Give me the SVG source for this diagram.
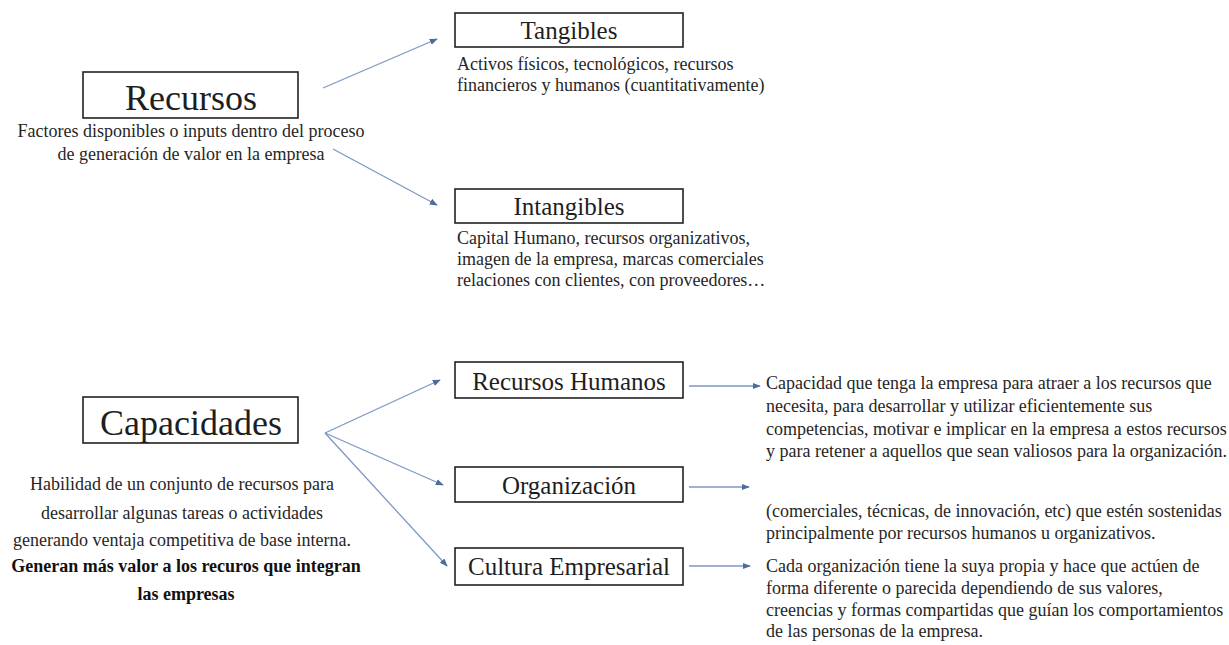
<svg xmlns="http://www.w3.org/2000/svg" width="1229" height="645" viewBox="0 0 1229 645">
  <style>
    .title { font-family: 'Liberation Serif', 'DejaVu Serif', serif; fill: #1e1e1e; text-anchor: middle; }
    .box { fill: #ffffff; stroke: #222222; stroke-width: 1.6; }
    .big { font-size: 36px; }
    .mid { font-size: 25px; }
    .desc { font-family: 'Liberation Serif', 'DejaVu Serif', serif; font-size: 18px; fill: #262626; }
    .center { text-anchor: middle; }
    .bold { font-weight: bold; fill: #111111; }
    .link { fill: none; stroke: #7b98c4; stroke-width: 1.3; marker-end: url(#tip); }
  </style>
  <defs>
    <marker id="tip" viewBox="0 0 10 10" refX="9" refY="5" markerWidth="8" markerHeight="8" markerUnits="userSpaceOnUse" orient="auto">
      <path d="M0,1 L10,5 L0,9 Z" fill="#4d6c9c"/>
    </marker>
  </defs>
  <rect width="1229" height="645" fill="#ffffff"/>

  <!-- connectors -->
  <g id="connectors">
    <line class="link" x1="323" y1="88" x2="437" y2="39"/>
    <line class="link" x1="333" y1="149" x2="437" y2="205"/>
    <line class="link" x1="325" y1="433" x2="440" y2="380"/>
    <line class="link" x1="325" y1="433" x2="443" y2="485"/>
    <line class="link" x1="325" y1="433" x2="447" y2="566"/>
    <line class="link" x1="689" y1="386" x2="760" y2="386"/>
    <line class="link" x1="689" y1="487" x2="749" y2="487"/>
    <line class="link" x1="689" y1="566" x2="750" y2="566"/>
  </g>

  <!-- Recursos -->
  <g id="recursos">
    <rect class="box" x="83" y="72" width="215" height="46"/>
    <text class="title big" x="191" y="110">Recursos</text>
    <text class="desc center" x="191" y="137">Factores disponibles o inputs dentro del proceso</text>
    <text class="desc center" x="191" y="160">de generación de valor en la empresa</text>
  </g>

  <!-- Tangibles -->
  <g id="tangibles">
    <rect class="box" x="455" y="13" width="228" height="34"/>
    <text class="title mid" x="569" y="39">Tangibles</text>
    <text class="desc" x="457" y="70">Activos físicos, tecnológicos, recursos</text>
    <text class="desc" x="457" y="91">financieros y humanos (cuantitativamente)</text>
  </g>

  <!-- Intangibles -->
  <g id="intangibles">
    <rect class="box" x="455" y="189" width="228" height="34"/>
    <text class="title mid" x="569" y="215">Intangibles</text>
    <text class="desc" x="457" y="244">Capital Humano, recursos organizativos,</text>
    <text class="desc" x="457" y="265">imagen de la empresa, marcas comerciales</text>
    <text class="desc" x="457" y="286">relaciones con clientes, con proveedores…</text>
  </g>

  <!-- Capacidades -->
  <g id="capacidades">
    <rect class="box" x="83" y="397" width="215" height="46"/>
    <text class="title big" x="191" y="435">Capacidades</text>
    <text class="desc center" x="182" y="490">Habilidad de un conjunto de recursos para</text>
    <text class="desc center" x="182" y="519">desarrollar algunas tareas o actividades</text>
    <text class="desc center" x="182" y="546">generando ventaja competitiva de base interna.</text>
    <text class="desc center bold" x="186" y="572">Generan más valor a los recuros que integran</text>
    <text class="desc center bold" x="186" y="600">las empresas</text>
  </g>

  <!-- Recursos Humanos -->
  <g id="recursos-humanos">
    <rect class="box" x="455" y="362" width="228" height="36"/>
    <text class="title mid" x="569" y="390">Recursos Humanos</text>
    <text class="desc" x="766" y="389">Capacidad que tenga la empresa para atraer a los recursos que</text>
    <text class="desc" x="766" y="412">necesita, para desarrollar y utilizar eficientemente sus</text>
    <text class="desc" x="766" y="435">competencias, motivar e implicar en la empresa a estos recursos</text>
    <text class="desc" x="766" y="457">y para retener a aquellos que sean valiosos para la organización.</text>
  </g>

  <!-- Organización -->
  <g id="organizacion">
    <rect class="box" x="455" y="467" width="228" height="35"/>
    <text class="title mid" x="569" y="494">Organización</text>
    <text class="desc" x="766" y="517">(comerciales, técnicas, de innovación, etc) que estén sostenidas</text>
    <text class="desc" x="766" y="539">principalmente por recursos humanos u organizativos.</text>
  </g>

  <!-- Cultura Empresarial -->
  <g id="cultura-empresarial">
    <rect class="box" x="455" y="548" width="228" height="37"/>
    <text class="title mid" x="569" y="575">Cultura Empresarial</text>
    <text class="desc" x="766" y="572">Cada organización tiene la suya propia y hace que actúen de</text>
    <text class="desc" x="766" y="594">forma diferente o parecida dependiendo de sus valores,</text>
    <text class="desc" x="766" y="616">creencias y formas compartidas que guían los comportamientos</text>
    <text class="desc" x="766" y="637">de las personas de la empresa.</text>
  </g>
</svg>
